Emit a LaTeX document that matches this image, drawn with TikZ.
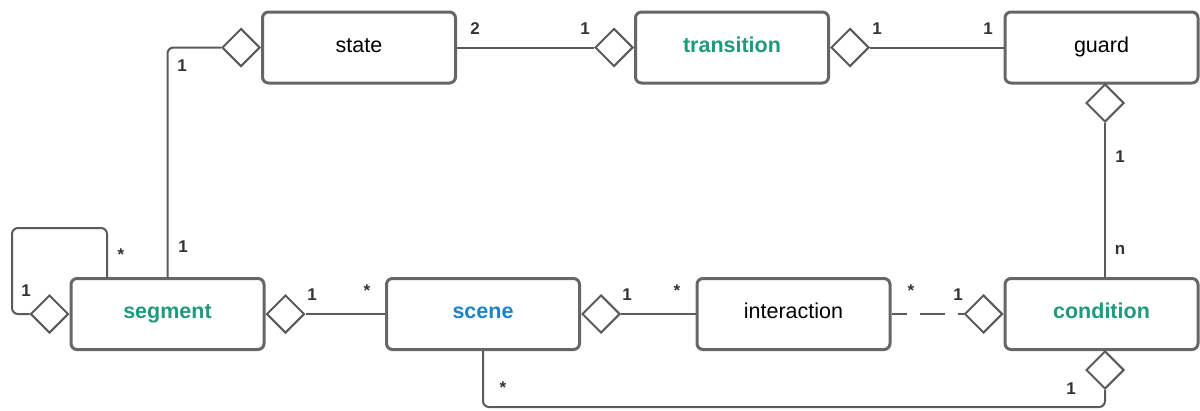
\documentclass[tikz,border=0pt]{standalone}
\usepackage{fontspec}
\setmainfont{Liberation Sans}
\usetikzlibrary{shapes.geometric}
\definecolor{boxgray}{HTML}{666666}
\definecolor{linegray}{HTML}{5A5A5A}
\definecolor{labgray}{HTML}{333333}
\definecolor{tgreen}{HTML}{1F9A7C}
\definecolor{tblue}{HTML}{1B84C6}
\begin{document}
\begin{tikzpicture}[x=1pt,y=-1pt,
  cls/.style={draw=boxgray,line width=3pt,rounded corners=6pt,fill=white,
    minimum width=193pt,minimum height=71pt,inner sep=0pt,
    text height=9pt,text depth=0pt,
    font=\fontsize{21.5}{24}\selectfont},
  hl/.style={font=\fontsize{21.5}{24}\selectfont\bfseries,text=tgreen},
  agg/.style={diamond,draw=linegray,line width=2pt,fill=white,aspect=1,
    minimum width=38pt,minimum height=38pt,inner sep=0pt},
  conn/.style={draw=linegray,line width=2pt},
  lab/.style={inner sep=0pt,text=labgray,font=\fontsize{17}{20}\selectfont\bfseries}]
\useasboundingbox (0,0) rectangle (1200,410);
% classes
\node[cls] (state) at (359,47.5) {state};
\node[cls,hl] (transition) at (732,47.5) {transition};
\node[cls] (guard) at (1101.5,47.5) {guard};
\node[cls,hl] (segment) at (167.5,314) {segment};
\node[cls,hl,text=tblue] (scene) at (483,314) {scene};
\node[cls] (interaction) at (793.5,314) {interaction};
\node[cls,hl] (condition) at (1101.5,314) {condition};
% connector geometry
\coordinate (loopc) at (12,228);
\coordinate (bot) at (1105,407);
\coordinate (loopstart) at (107,278);
% diamonds
\node[agg,anchor=east] (sd) at (state.west) {};
\node[agg,anchor=east] (td1) at (transition.west) {};
\node[agg,anchor=west] (td2) at (transition.east) {};
\node[agg,anchor=north] (gd) at (1105,83) {};
\node[agg,anchor=east] (sgd1) at (segment.west) {};
\node[agg,anchor=west] (sgd2) at (segment.east) {};
\node[agg,anchor=west] (scd) at (scene.east) {};
\node[agg,anchor=east] (cd1) at (condition.west) {};
\node[agg,anchor=north] (cd2) at (1105,350) {};
% connectors
\draw[conn,rounded corners=6pt] (sd.west) -| (segment.north);
\draw[conn] (state.east) -- (td1.west);
\draw[conn] (td2.east) -- (guard.west);
\draw[conn] (gd.south) -- (gd.south |- condition.north);
\draw[conn,rounded corners=6pt] (loopstart) |- (loopc) |- (sgd1.west);
\draw[conn] (sgd2.east) -- (scene.west);
\draw[conn] (scd.east) -- (interaction.west);
\draw[conn,dash pattern=on 25pt off 13pt,dash phase=10pt] (interaction.east) -- (cd1.west);
\draw[conn,rounded corners=6pt] (scene.south) |- (bot) -- (cd2.south);
% multiplicities
\node[lab] (l1) at (182,66) {1};
\node[lab] (l2) at (475,29) {2};
\node[lab] (l3) at (585,29) {1};
\node[lab] (l4) at (877,29) {1};
\node[lab] (l5) at (988,29) {1};
\node[lab] (l6) at (1120,157) {1};
\node[lab] (l7) at (1120,250) {n};
\node[lab] (l8) at (121,255) {*};
\node[lab] (l9) at (183,247) {1};
\node[lab] (l10) at (26,291) {1};
\node[lab] (l11) at (312,295) {1};
\node[lab] (l12) at (367,291) {*};
\node[lab] (l13) at (627,295) {1};
\node[lab] (l14) at (677,291) {*};
\node[lab] (l15) at (911,291) {*};
\node[lab] (l16) at (958,295) {1};
\node[lab] (l17) at (503,388) {*};
\node[lab] (l18) at (1071,389) {1};
\end{tikzpicture}
\end{document}
